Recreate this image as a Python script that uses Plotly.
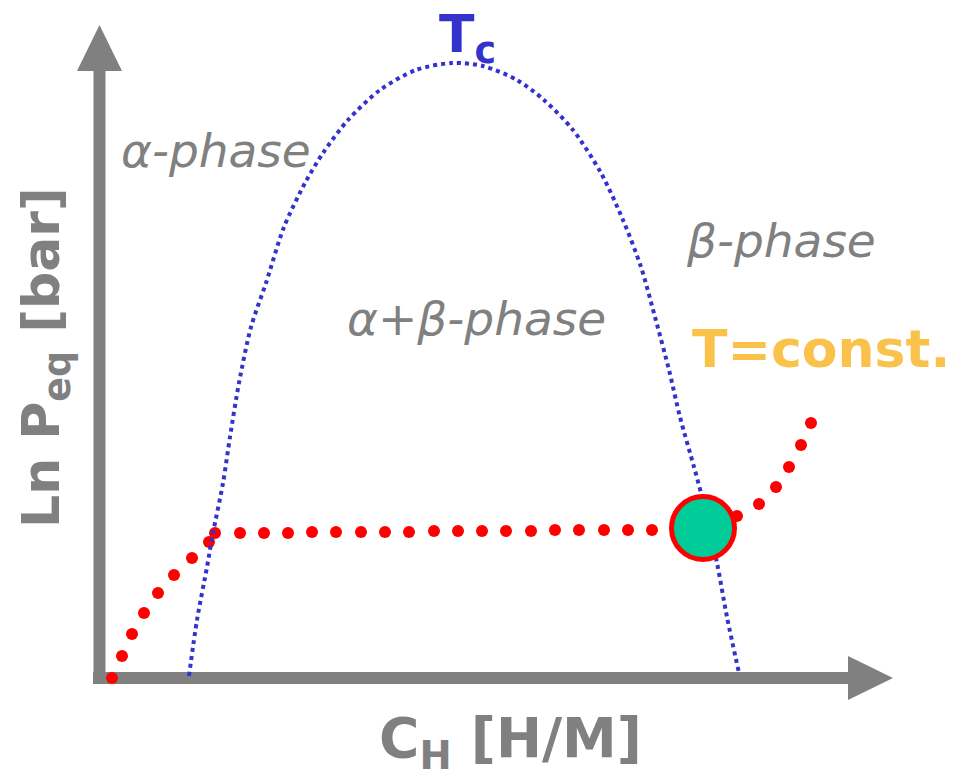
import plotly.graph_objects as go

# Zweiphasengebiet (Kuppel) - C_H [willk. Einh.], ln P [willk. Einh.]
kuppel_x = [0.90, 0.98, 1.08, 1.14, 1.24, 1.31, 1.40, 1.52, 1.67, 1.85, 2.06, 2.24, 2.49, 2.81,
            3.17, 3.53, 3.84, 4.18, 4.45, 4.74, 5.02, 5.24, 5.42, 5.56, 5.70, 5.81, 5.95, 6.02,
            6.18, 6.28, 6.40]
kuppel_y = [0.02, 0.58, 1.11, 1.45, 1.95, 2.41, 2.95, 3.51, 3.95, 4.51, 4.95, 5.25, 5.58, 5.88,
            6.08, 6.15, 6.12, 5.98, 5.78, 5.48, 5.05, 4.58, 4.11, 3.61, 3.08, 2.61, 2.11, 1.85,
            1.15, 0.61, 0.05]

# Isotherme T = const.
iso_x = [0.13, 0.23, 0.33, 0.45, 0.59, 0.75, 0.93, 1.10, 1.16,
         1.41, 1.65, 1.89, 2.13, 2.37, 2.62, 2.86, 3.10, 3.35, 3.59, 3.83, 4.07, 4.32, 4.56,
         4.80, 5.05, 5.29, 5.53,
         6.38, 6.60, 6.77, 6.90, 7.02, 7.12]
iso_y = [0.00, 0.22, 0.44, 0.65, 0.85, 1.03, 1.20, 1.36, 1.45,
         1.45, 1.45, 1.45, 1.46, 1.46, 1.46, 1.46, 1.46, 1.47, 1.47, 1.47, 1.47, 1.47, 1.48,
         1.48, 1.48, 1.48, 1.48,
         1.62, 1.74, 1.91, 2.11, 2.33, 2.55]

# Markierter Punkt auf der Phasengrenze
punkt_x = [6.04]
punkt_y = [1.50]

GRAU = "#808080"
BLAU = "#3333CC"
ROT = "#FF0000"
ORANGE = "#FAC24B"

fig = go.Figure()

# Isotherme (rote Punkte)
fig.add_trace(
    go.Scatter(
        x=iso_x,
        y=iso_y,
        mode="markers",
        marker=dict(color=ROT, size=12),
        hoverinfo="skip",
    )
)

# Kuppel (blau gepunktet)
fig.add_trace(
    go.Scatter(
        x=kuppel_x,
        y=kuppel_y,
        mode="lines",
        line=dict(color=BLAU, width=4, dash="dot", shape="spline", smoothing=0.8),
        hoverinfo="skip",
    )
)

# Gruener Kreis
fig.add_trace(
    go.Scatter(
        x=punkt_x,
        y=punkt_y,
        mode="markers",
        marker=dict(color="#00CC99", size=63, line=dict(color=ROT, width=5)),
        hoverinfo="skip",
    )
)

# Achsen als Pfeile
fig.add_shape(type="line", x0=0.005, y0=-0.06, x1=0.005, y1=6.10,
              line=dict(color=GRAU, width=12), layer="below")
fig.add_shape(type="path", path="M -0.22 6.07 L 0.005 6.53 L 0.23 6.07 Z",
              fillcolor=GRAU, line=dict(width=0), layer="below")
fig.add_shape(type="line", x0=-0.06, y0=0, x1=7.52, y1=0,
              line=dict(color=GRAU, width=12), layer="below")
fig.add_shape(type="path", path="M 7.49 0.22 L 7.94 0 L 7.49 -0.22 Z",
              fillcolor=GRAU, line=dict(width=0), layer="below")

kursiv = dict(family="DejaVu Sans", size=47, color=GRAU, style="italic")
fett = dict(family="DejaVu Sans", size=55, color=GRAU, weight="bold")

beschriftungen = [
    ("α-phase", 1.17, 5.28, kursiv, 0),
    ("β-phase", 6.82, 4.38, kursiv, 0),
    ("α+β-phase", 3.77, 3.60, kursiv, 0),
    ("T=const.", 7.22, 3.29, dict(family="DejaVu Sans", size=52, color=ORANGE, weight="bold"), 0),
    ("T<sub>c</sub>", 3.68, 6.40, dict(family="DejaVu Sans", size=52, color=BLAU, weight="bold"), 0),
    ("C<sub>H</sub> [H/M]", 4.11, -0.64, fett, 0),
    ("Ln P<sub>eq</sub> [bar]", -0.54, 3.20, dict(family="DejaVu Sans", size=52, color=GRAU, weight="bold"), -90),
]
for text, x, y, font, winkel in beschriftungen:
    fig.add_annotation(x=x, y=y, text=text, showarrow=False, font=font, textangle=winkel,
                       xanchor="center", yanchor="middle")

fig.update_xaxes(range=[-0.99, 8.66], visible=False)
fig.update_yaxes(range=[-1.01, 6.78], visible=False)

fig.update_layout(
    width=965,
    height=779,
    margin=dict(l=0, r=0, t=0, b=0),
    plot_bgcolor="white",
    paper_bgcolor="white",
    showlegend=False,
)

# Standardrand des Browsers entfernen, damit die Seite genau 965x779 gross ist
fig.write_html(
    "out.html",
    config={"displayModeBar": False},
    post_script="document.body.style.margin='0';",
)
